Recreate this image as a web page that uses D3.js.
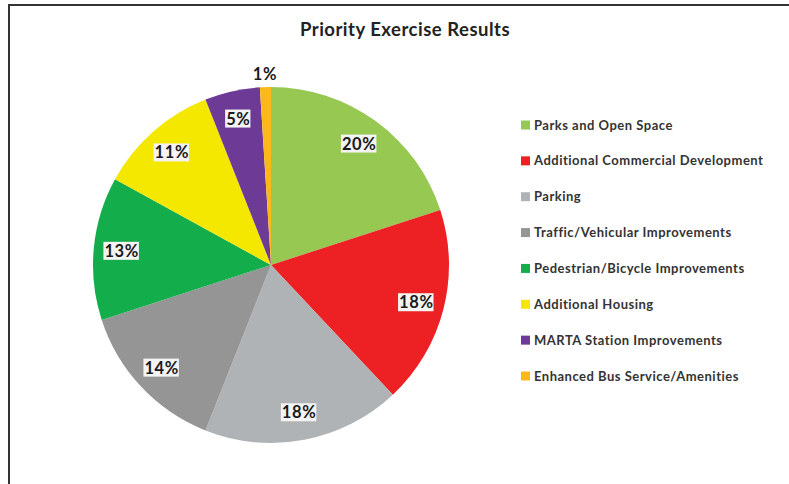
<!DOCTYPE html>
<html>
<head>
<meta charset="utf-8">
<script src="https://cdn.jsdelivr.net/npm/d3@7"></script>
<style>
  html, body { margin: 0; padding: 0; background: #fff; }
  svg { display: block; }
</style>
</head>
<body>
<div id="chart"></div>
<script>
// Survey results: share of votes per priority
const categories = [
  "Parks and Open Space",
  "Additional Commercial Development",
  "Parking",
  "Traffic/Vehicular Improvements",
  "Pedestrian/Bicycle Improvements",
  "Additional Housing",
  "MARTA Station Improvements",
  "Enhanced Bus Service/Amenities"
];
const values = [20, 18, 18, 14, 13, 11, 5, 1];
const colors = ["#97c852", "#ed2024", "#b0b3b5", "#959596", "#13ae4b", "#f4e700", "#6d3a96", "#fbb918"];
const titleText = "Priority Exercise Results";

const W = 789, H = 484;
const cx = 271, cy = 265, R = 178;

const svg = d3.select("#chart").append("svg")
  .attr("width", W).attr("height", H);

// frame lines
svg.append("line").attr("x1", 8.5).attr("x2", W).attr("y1", 5).attr("y2", 5)
  .attr("stroke", "#333").attr("stroke-width", 2);
svg.append("line").attr("x1", 9).attr("x2", 9).attr("y1", 4).attr("y2", H)
  .attr("stroke", "#333").attr("stroke-width", 2);

svg.append("text")
  .attr("x", 405).attr("y", 36)
  .attr("text-anchor", "middle")
  .attr("font-family", "Lato, 'Open Sans', sans-serif")
  .attr("font-weight", "bold")
  .attr("font-size", 18.5)
  .attr("letter-spacing", 0.5)
  .attr("fill", "#222")
  .text(titleText);

const pie = d3.pie().sort(null).value(d => d)(values);
const arc = d3.arc().innerRadius(0).outerRadius(R);

const g = svg.append("g").attr("transform", `translate(${cx},${cy})`);
g.selectAll("path.slice").data(pie).join("path")
  .attr("class", "slice")
  .attr("d", arc)
  .attr("fill", (d, i) => colors[i]);

// percentage labels, the smallest slice gets its label outside the pie
const labelArc = d3.arc().innerRadius(150).outerRadius(150);
const outerArc = d3.arc().innerRadius(191).outerRadius(191);
const lab = g.selectAll("g.lab").data(pie).join("g")
  .attr("class", "lab")
  .attr("transform", d => {
    const c = (d.data < 3 ? outerArc : labelArc).centroid(d);
    return `translate(${c[0]},${c[1]})`;
  });
lab.each(function(d) {
  const sel = d3.select(this);
  const t = sel.append("text")
    .attr("text-anchor", "middle")
    .attr("dy", "0.36em")
    .attr("font-family", "Lato, 'Open Sans', sans-serif")
    .attr("font-weight", "bold")
    .attr("font-size", 16.5)
    .attr("letter-spacing", 0.6)
    .attr("fill", "#1a1a1a")
    .text(d.data + "%");
  if (d.data >= 3) {
    const b = t.node().getBBox();
    sel.insert("rect", "text")
      .attr("x", b.x - 1).attr("y", b.y + 1)
      .attr("width", b.width + 1).attr("height", b.height - 2)
      .attr("fill", "#f4f4f4");
  }
});

// legend
const legendY = d3.scalePoint().domain(categories).range([125, 376]);
const leg = svg.append("g");
const item = leg.selectAll("g").data(categories).join("g")
  .attr("transform", d => `translate(521,${legendY(d)})`);
item.append("rect")
  .attr("x", 0).attr("y", -4.5).attr("width", 9).attr("height", 9)
  .attr("fill", (d, i) => colors[i]);
item.append("text")
  .attr("x", 13).attr("dy", "0.35em")
  .attr("font-family", "Lato, 'Open Sans', sans-serif")
  .attr("font-weight", "bold")
  .attr("font-size", 13)
  .attr("letter-spacing", 0.5)
  .attr("fill", "#333")
  .text(d => d);
</script>
</body>
</html>
